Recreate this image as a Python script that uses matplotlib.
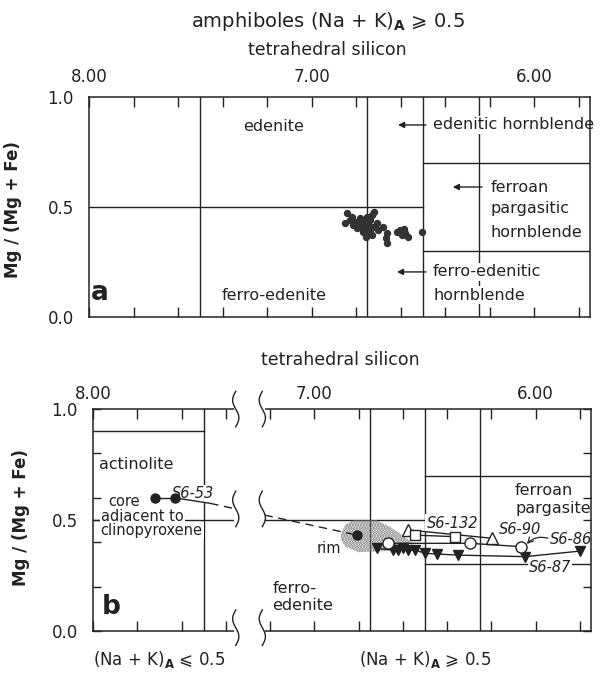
import numpy as np
import matplotlib
matplotlib.use("Agg")
import matplotlib.pyplot as plt
import matplotlib.transforms as mtransforms
from matplotlib.patches import Polygon, Rectangle

plt.rcParams['font.family'] = ['DejaVu Sans']
plt.rcParams['mathtext.fontset'] = 'dejavusans'
plt.rcParams['hatch.linewidth'] = 1.6
INK = '#222222'

# axis ticks (tetrahedral Si, Mg/(Mg+Fe))
SI_TICKS = [8.0, 7.8, 7.6, 7.4, 7.2, 7.0, 6.8, 6.6, 6.4, 6.2, 6.0, 5.8]
SI_LABELS = ['8.00', '', '', '', '', '7.00', '', '', '', '', '6.00', '']
MG_TICKS_A = [0.0, 0.5, 1.0]
MG_LABELS_A = ['0.0', '0.5', '1.0']
MG_TICKS_B = [0.0, 0.2, 0.4, 0.5, 0.6, 0.8, 1.0]
MG_LABELS_B = ['0.0', '', '', '0.5', '', '', '1.0']

# classification boundaries
A_VLINES = [7.5, 6.75, 6.5, 6.25]
A_HLINES = [(0.5, 8.0, 6.5), (0.7, 6.5, 5.75), (0.3, 6.5, 5.75)]
B_VLINES = [7.5, 6.75, 6.5, 6.25]
B_HLINES = [(0.9, 8.0, 7.5), (0.5, 8.0, 6.5), (0.7, 6.5, 5.75), (0.3, 6.5, 5.75)]

# panel a: analyses
A_SI = [6.843, 6.828, 6.850, 6.820, 6.806, 6.815, 6.790, 6.783, 6.768, 6.776,
        6.753, 6.738, 6.731, 6.719, 6.746, 6.761, 6.783, 6.798, 6.768, 6.753,
        6.738, 6.723, 6.708, 6.701, 6.731, 6.755, 6.740, 6.678, 6.663, 6.666,
        6.663, 6.618, 6.603, 6.586, 6.581, 6.566, 6.595, 6.506]
A_MG = [0.471, 0.441, 0.426, 0.456, 0.433, 0.418, 0.430, 0.449, 0.441, 0.426,
        0.456, 0.441, 0.464, 0.479, 0.418, 0.403, 0.411, 0.403, 0.388, 0.380,
        0.395, 0.411, 0.426, 0.395, 0.373, 0.365, 0.405, 0.411, 0.380, 0.358,
        0.335, 0.388, 0.395, 0.398, 0.380, 0.365, 0.375, 0.388]

# panel b: zoned grains
CORE_SI = [7.72, 7.63]
CORE_MG = [0.60, 0.60]
S653_SOLID_SI = [7.63, 7.47]
S653_SOLID_MG = [0.60, 0.575]
S653_DASH_SI = [7.47, 6.806]
S653_DASH_MG = [0.575, 0.432]
RIM_SI = [6.806]
RIM_MG = [0.432]
S6132_SI = [6.545, 6.364]
S6132_MG = [0.432, 0.425]
S690_SI = [6.575, 6.198]
S690_MG = [0.455, 0.418]
S686_SI = [6.666, 6.296, 6.065]
S686_MG = [0.395, 0.395, 0.380]
S687_SI = [6.718, 6.643, 6.620, 6.598, 6.575, 6.545, 6.500, 6.447, 6.349, 6.048, 5.800]
S687_MG = [0.372, 0.365, 0.365, 0.372, 0.365, 0.365, 0.350, 0.347, 0.342, 0.335, 0.360]
STIP_SI = [6.88, 6.86, 6.82, 6.72, 6.66, 6.60, 6.56, 6.60, 6.68, 6.80, 6.86, 6.88]
STIP_MG = [0.44, 0.48, 0.50, 0.50, 0.47, 0.43, 0.40, 0.37, 0.36, 0.355, 0.38, 0.41]

BREAK_SI = (7.365, 7.225)

fig = plt.figure(figsize=(6.07, 6.78), dpi=100)
ax_a = fig.add_axes([0.1466, 0.5324, 0.8254, 0.3245])
ax_b = fig.add_axes([0.1532, 0.0693, 0.8204, 0.3274])

box = dict(facecolor='white', edgecolor='none', pad=0.8)


def frame(ax, yticks, ylabels, ylen, xpad):
    ax.set_xlim(8.0, 5.75)
    ax.set_ylim(0.0, 1.0)
    ax.set_xticks(SI_TICKS)
    ax.set_xticklabels(SI_LABELS)
    ax.set_yticks(yticks)
    ax.set_yticklabels(ylabels)
    ax.tick_params(axis='x', direction='in', top=True, bottom=True,
                   labeltop=True, labelbottom=False, length=7, width=1.0,
                   color=INK, labelsize=12, labelcolor=INK, pad=xpad)
    ax.tick_params(axis='y', direction='in', left=True, right=True,
                   length=ylen, width=1.0, color=INK, labelsize=12,
                   labelcolor=INK, pad=11)
    for s in ax.spines.values():
        s.set_linewidth(1.1)
        s.set_color(INK)
        s.set_zorder(4)
    ax.set_ylabel('Mg / (Mg + Fe)', fontsize=12, fontweight='bold', color=INK)


def boundaries(ax, vlines, hlines):
    for si in vlines:
        ax.axvline(si, color=INK, lw=1.0, zorder=1)
    for mg, s0, s1 in hlines:
        ax.plot([s0, s1], [mg, mg], color=INK, lw=1.0, zorder=1)


def arrow(ax, tail, tip, mg):
    ax.annotate('', xy=(tip, mg), xytext=(tail, mg),
                arrowprops=dict(arrowstyle='-|>', color=INK, lw=1.0,
                                mutation_scale=9, shrinkA=0, shrinkB=0))


# ---------------- panel a ----------------
frame(ax_a, MG_TICKS_A, MG_LABELS_A, 0, 8)
ax_a.yaxis.set_label_coords(-0.134, 0.49)
boundaries(ax_a, A_VLINES, A_HLINES)
ax_a.plot(A_SI, A_MG, 'o', ms=4.3, color='#333333', mec='#333333', zorder=5)

kw = dict(fontsize=11.5, color=INK, bbox=box, zorder=3)
ax_a.text(7.17, 0.864, 'edenite', ha='center', va='center', **kw)
ax_a.text(7.17, 0.10, 'ferro-edenite', ha='center', va='center', **kw)
ax_a.text(6.455, 0.873, 'edenitic hornblende', ha='left', va='center', **kw)
arrow(ax_a, 6.487, 6.612, 0.873)
ax_a.text(6.195, 0.591, 'ferroan', ha='left', va='center', **kw)
ax_a.text(6.195, 0.495, 'pargasitic', ha='left', va='center', **kw)
ax_a.text(6.195, 0.382, 'hornblende', ha='left', va='center', **kw)
arrow(ax_a, 6.235, 6.366, 0.591)
ax_a.text(6.455, 0.205, 'ferro-edenitic', ha='left', va='center', **kw)
ax_a.text(6.455, 0.100, 'hornblende', ha='left', va='center', **kw)
arrow(ax_a, 6.487, 6.617, 0.205)
ax_a.text(7.99, 0.11, 'a', ha='left', va='center', fontsize=19,
          fontweight='bold', color=INK)

# ---------------- panel b ----------------
frame(ax_b, MG_TICKS_B, MG_LABELS_B, 6, 4)
ax_b.yaxis.set_label_coords(-0.127, 0.51)
boundaries(ax_b, B_VLINES, B_HLINES)

ax_b.add_patch(Polygon(np.column_stack([STIP_SI, STIP_MG]), closed=True,
                       facecolor='none', edgecolor='#7a7a7a', hatch='......',
                       lw=0, zorder=2))

ax_b.plot(S653_SOLID_SI, S653_SOLID_MG, '-', color=INK, lw=1.0, zorder=5)
ax_b.plot(S653_DASH_SI, S653_DASH_MG, '--', color=INK, lw=1.0,
          dashes=(6, 4), zorder=5)
ax_b.plot(CORE_SI, CORE_MG, 'o-', ms=6.5, color=INK, lw=1.0, zorder=6)
ax_b.plot(RIM_SI, RIM_MG, 'o', ms=6.5, color=INK, zorder=6)

ax_b.plot(S687_SI, S687_MG, 'v-', ms=7, color=INK, lw=1.0, zorder=5)
ax_b.plot(S686_SI, S686_MG, 'o-', ms=8, color=INK, mfc='white', lw=1.0, zorder=6)
ax_b.plot(S690_SI, S690_MG, '^-', ms=8, color=INK, mfc='white', lw=1.0, zorder=6)
ax_b.plot(S6132_SI, S6132_MG, 's-', ms=7, color=INK, mfc='white', lw=1.0, zorder=6)

# break in the axis between the two (Na + K)A groups
blend = mtransforms.blended_transform_factory(ax_b.transData, ax_b.transAxes)
ax_b.add_patch(Rectangle((BREAK_SI[0], -0.06), BREAK_SI[1] - BREAK_SI[0], 1.12,
                         transform=blend, facecolor='white', edgecolor='none',
                         clip_on=False, zorder=7))
t = np.linspace(0.0, 1.0, 50)
for si in (BREAK_SI[0] - 0.01, BREAK_SI[1] + 0.01):
    for yc in (1.0, 0.55, 0.015):
        ax_b.plot(si + 0.014 * np.sin(2 * np.pi * t), yc + 0.16 * (0.5 - t),
                  color=INK, lw=1.0, transform=blend, clip_on=False, zorder=8)

kb = dict(fontsize=11.5, color=INK, bbox=box, zorder=3)
kc = dict(fontsize=10.5, color=INK, bbox=box, zorder=3)
ax_b.text(7.975, 0.748, 'actinolite', ha='left', va='center', **kb)
ax_b.text(7.93, 0.585, 'core', ha='left', va='center', **kc)
ax_b.text(7.965, 0.518, 'adjacent to', ha='left', va='center', **kc)
ax_b.text(7.965, 0.452, 'clinopyroxene', ha='left', va='center', **kc)
ax_b.text(7.19, 0.19, 'ferro-', ha='left', va='center', **kb)
ax_b.text(7.19, 0.117, 'edenite', ha='left', va='center', **kb)
ax_b.text(6.093, 0.635, 'ferroan', ha='left', va='center', **kb)
ax_b.text(6.093, 0.55, 'pargasite', ha='left', va='center', **kb)
ax_b.text(6.935, 0.37, 'rim', ha='center', va='center', fontsize=10.5,
          color=INK, zorder=3)

ks = dict(fontsize=10.5, style='italic', color=INK, ha='center',
          va='center', bbox=box, zorder=3)
ax_b.text(7.55, 0.62, 'S6-53', **ks)
ax_b.text(6.377, 0.486, 'S6-132', **ks)
ax_b.text(6.07, 0.458, 'S6-90', **ks)
ax_b.text(5.84, 0.412, 'S6-86', **ks)
ax_b.text(5.935, 0.288, 'S6-87', **ks)
ax_b.annotate('', xy=(6.04, 0.392), xytext=(5.945, 0.418),
              arrowprops=dict(arrowstyle='->', color=INK, lw=0.9,
                              connectionstyle='arc3,rad=0.3',
                              shrinkA=0, shrinkB=0))
ax_b.text(7.96, 0.106, 'b', ha='left', va='center', fontsize=19,
          fontweight='bold', color=INK)

ax_b.text(8.0, -0.13, r'(Na + K)$_{\mathbf{A}}$ ⩽ 0.5', transform=blend,
          ha='left', va='center', fontsize=12, color=INK)
ax_b.text(6.5, -0.13, r'(Na + K)$_{\mathbf{A}}$ ⩾ 0.5', transform=blend,
          ha='center', va='center', fontsize=12, color=INK)

# headings
fig.text(0.540, 0.9676, r'amphiboles (Na + K)$_{\mathbf{A}}$ ⩾ 0.5',
         ha='center', va='center', fontsize=14, color=INK)
fig.text(0.539, 0.926, 'tetrahedral silicon', ha='center', va='center',
         fontsize=12.5, color=INK)
fig.text(0.560, 0.469, 'tetrahedral silicon', ha='center', va='center',
         fontsize=12.5, color=INK)

fig.savefig('out.png', dpi=100, facecolor='white')
